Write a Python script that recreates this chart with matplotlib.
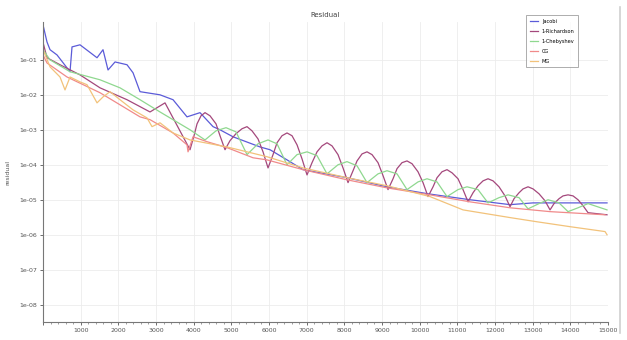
import matplotlib
matplotlib.use("Agg")
import matplotlib.pyplot as plt
import numpy as np
from matplotlib.ticker import FixedLocator, FuncFormatter, MultipleLocator
from matplotlib.lines import Line2D

# residual histories (iteration, log10 residual)
jacobi_it = [0, 106, 186, 372, 717, 770, 982, 1434, 1593, 1726, 1912, 2230, 2390, 2575,
             3106, 3452, 3823, 4168, 4514, 4699, 5045, 5761, 6027, 6478, 6903, 8071,
             9133, 10222, 11337, 12399, 13010, 14974]
jacobi_log = [0.0, -0.49, -0.71, -0.86, -1.34, -0.63, -0.57, -0.94, -0.71, -1.29, -1.06,
              -1.14, -1.37, -1.91, -2.0, -2.14, -2.63, -2.51, -2.91, -3.0, -3.2, -3.49,
              -3.57, -3.86, -4.14, -4.37, -4.63, -4.83, -5.0, -5.14, -5.09, -5.09]

rich_it = [0, 106, 451, 982, 1513, 2230, 2841, 3239, 3903,
           4009, 4089, 4195, 4301, 4434, 4593, 4699, 4832,
           4965, 5124, 5283, 5416, 5549, 5708, 5841, 5974,
           6107, 6213, 6345, 6478, 6611, 6744, 6876, 7009,
           7142, 7275, 7407, 7540, 7673, 7832, 7965, 8098,
           8231, 8337, 8469, 8602, 8735, 8894, 9027, 9160,
           9293, 9399, 9531, 9664, 9797, 9956, 10089, 10222,
           10355, 10461, 10593, 10726, 10859, 11018, 11151, 11284,
           11417, 11549, 11682, 11815, 11948, 12107, 12266, 12399,
           12505, 12638, 12744, 12877, 13010, 13169, 13328, 13461,
           13567, 13700, 13806, 13939, 14072, 14204, 14337, 14470, 14974]
rich_log = [-0.5, -0.94, -1.14, -1.43, -1.8, -2.14, -2.49, -2.23, -3.57,
            -3.17, -2.83, -2.6, -2.51, -2.6, -2.83, -3.17, -3.57,
            -3.31, -3.11, -2.97, -2.91, -3.03, -3.26, -3.63, -4.09,
            -3.71, -3.37, -3.17, -3.09, -3.17, -3.43, -3.83, -4.29,
            -3.94, -3.63, -3.46, -3.37, -3.46, -3.71, -4.09, -4.51,
            -4.17, -3.89, -3.69, -3.63, -3.71, -3.94, -4.31, -4.71,
            -4.4, -4.11, -3.94, -3.89, -3.97, -4.2, -4.51, -4.91,
            -4.63, -4.37, -4.2, -4.14, -4.23, -4.4, -4.71, -5.06,
            -4.8, -4.6, -4.46, -4.4, -4.46, -4.63, -4.89, -5.2,
            -4.97, -4.8, -4.69, -4.63, -4.69, -4.83, -5.03, -5.29,
            -5.11, -4.97, -4.89, -4.86, -4.89, -5.0, -5.17, -5.37, -5.43]

cheb_it = [0, 186, 717, 1513, 2044, 2575, 3106, 3903, 4301, 4593, 4859, 5124, 5416, 5708,
           5974, 6213, 6478, 6744, 7009, 7275, 7540, 7832, 8071, 8337, 8602, 8894, 9133,
           9399, 9664, 9956, 10195, 10461, 10726, 11018, 11257, 11549, 11815, 12107,
           12346, 12638, 12877, 13169, 13408, 13700, 13939, 14204, 14470, 14974]
cheb_log = [-0.71, -1.0, -1.34, -1.57, -1.8, -2.14, -2.49, -3.0, -3.29, -3.03, -2.94,
            -3.06, -3.71, -3.4, -3.29, -3.4, -4.0, -3.71, -3.63, -3.74, -4.26, -4.0,
            -3.91, -4.03, -4.51, -4.26, -4.17, -4.26, -4.71, -4.49, -4.4, -4.49, -4.91,
            -4.71, -4.63, -4.71, -5.09, -4.94, -4.86, -4.94, -5.26, -5.11, -5.0, -5.09,
            -5.34, -5.23, -5.11, -5.29]

cg_it = [0, 106, 637, 1513, 2575, 2841, 3452, 3823, 3850, 3983, 4354, 4885, 5576, 5947,
         6903, 8071, 9133, 10275, 11337, 12399, 13461, 14921]
cg_log = [-0.86, -1.09, -1.49, -1.94, -2.63, -2.71, -3.09, -3.43, -3.63, -3.2, -3.34,
          -3.51, -3.8, -3.86, -4.14, -4.43, -4.66, -4.86, -5.06, -5.23, -5.34, -5.43]

mg_it = [0, 186, 451, 584, 717, 982, 1168, 1434, 1593, 1779, 2044, 2390, 2761, 2894,
         3106, 3452, 3903, 4885, 5947, 6903, 8071, 9133, 10275, 11151, 12399, 13116,
         13992, 14921, 14974]
mg_log = [-0.71, -1.2, -1.49, -1.86, -1.49, -1.63, -1.71, -2.23, -2.06, -1.91, -2.14,
          -2.43, -2.66, -2.91, -2.8, -3.09, -3.29, -3.49, -3.77, -4.09, -4.37, -4.6,
          -4.91, -5.29, -5.51, -5.63, -5.77, -5.91, -6.0]

labels = ["Jacobi", "1-Richardson", "1-Chebyshev", "CG", "MG"]
y_ticks = [1e-1, 1e-2, 1e-3, 1e-4, 1e-5, 1e-6, 1e-7, 1e-8]

fig = plt.figure(figsize=(6.27, 3.4), dpi=100)
ax = fig.add_axes([0.0686, 0.053, 0.9011, 0.882])

series = [(jacobi_it, jacobi_log, "#5b5bd8"),
          (rich_it, rich_log, "#a4487c"),
          (cheb_it, cheb_log, "#8fd88f"),
          (cg_it, cg_log, "#f08a8a"),
          (mg_it, mg_log, "#f2c27a")]
for (it, lg, col), lab in zip(series, labels):
    ax.plot(it, 10.0 ** np.array(lg), color=col, lw=0.9, label=lab)

ax.set_yscale("log")
ax.set_xlim(0, 15000)
ax.set_ylim(3.2e-9, 1.2)
ax.yaxis.set_major_locator(FixedLocator(y_ticks))
ax.yaxis.set_major_formatter(FuncFormatter(lambda v, p: f"{v:.0e}"))
ax.yaxis.set_minor_locator(FixedLocator([]))
ax.xaxis.set_major_locator(MultipleLocator(1000))
ax.xaxis.set_minor_locator(MultipleLocator(200))
ax.xaxis.set_major_formatter(FuncFormatter(lambda v, p: "" if v == 0 else f"{int(v)}"))

ax.grid(True, color="#ececec", lw=0.6)
for s in ["top", "right"]:
    ax.spines[s].set_visible(False)
for s in ["left", "bottom"]:
    ax.spines[s].set_color("#777777")
    ax.spines[s].set_linewidth(0.8)
ax.tick_params(labelsize=4.5, colors="#555555", length=2.5, width=0.6, pad=2)
ax.tick_params(which="minor", length=1.5, width=0.5, colors="#777777")

ax.set_title("Residual", fontsize=5, color="#444444", pad=4)
ax.set_ylabel("residual", fontsize=4.5, color="#555555", labelpad=6)

leg = ax.legend(loc="upper right", bbox_to_anchor=(0.947, 1.023), borderaxespad=0,
                fontsize=3.6, frameon=True, fancybox=False, edgecolor="#888888",
                handlelength=1.6, borderpad=0.7, labelspacing=1.0)
leg.get_frame().set_linewidth(0.6)

# light border line at the right of the panel
fig.add_artist(Line2D([0.989, 0.989], [0.02, 0.98], transform=fig.transFigure,
                      color="#d0d0d0", lw=1.2))

fig.savefig("out.png", dpi=100)
